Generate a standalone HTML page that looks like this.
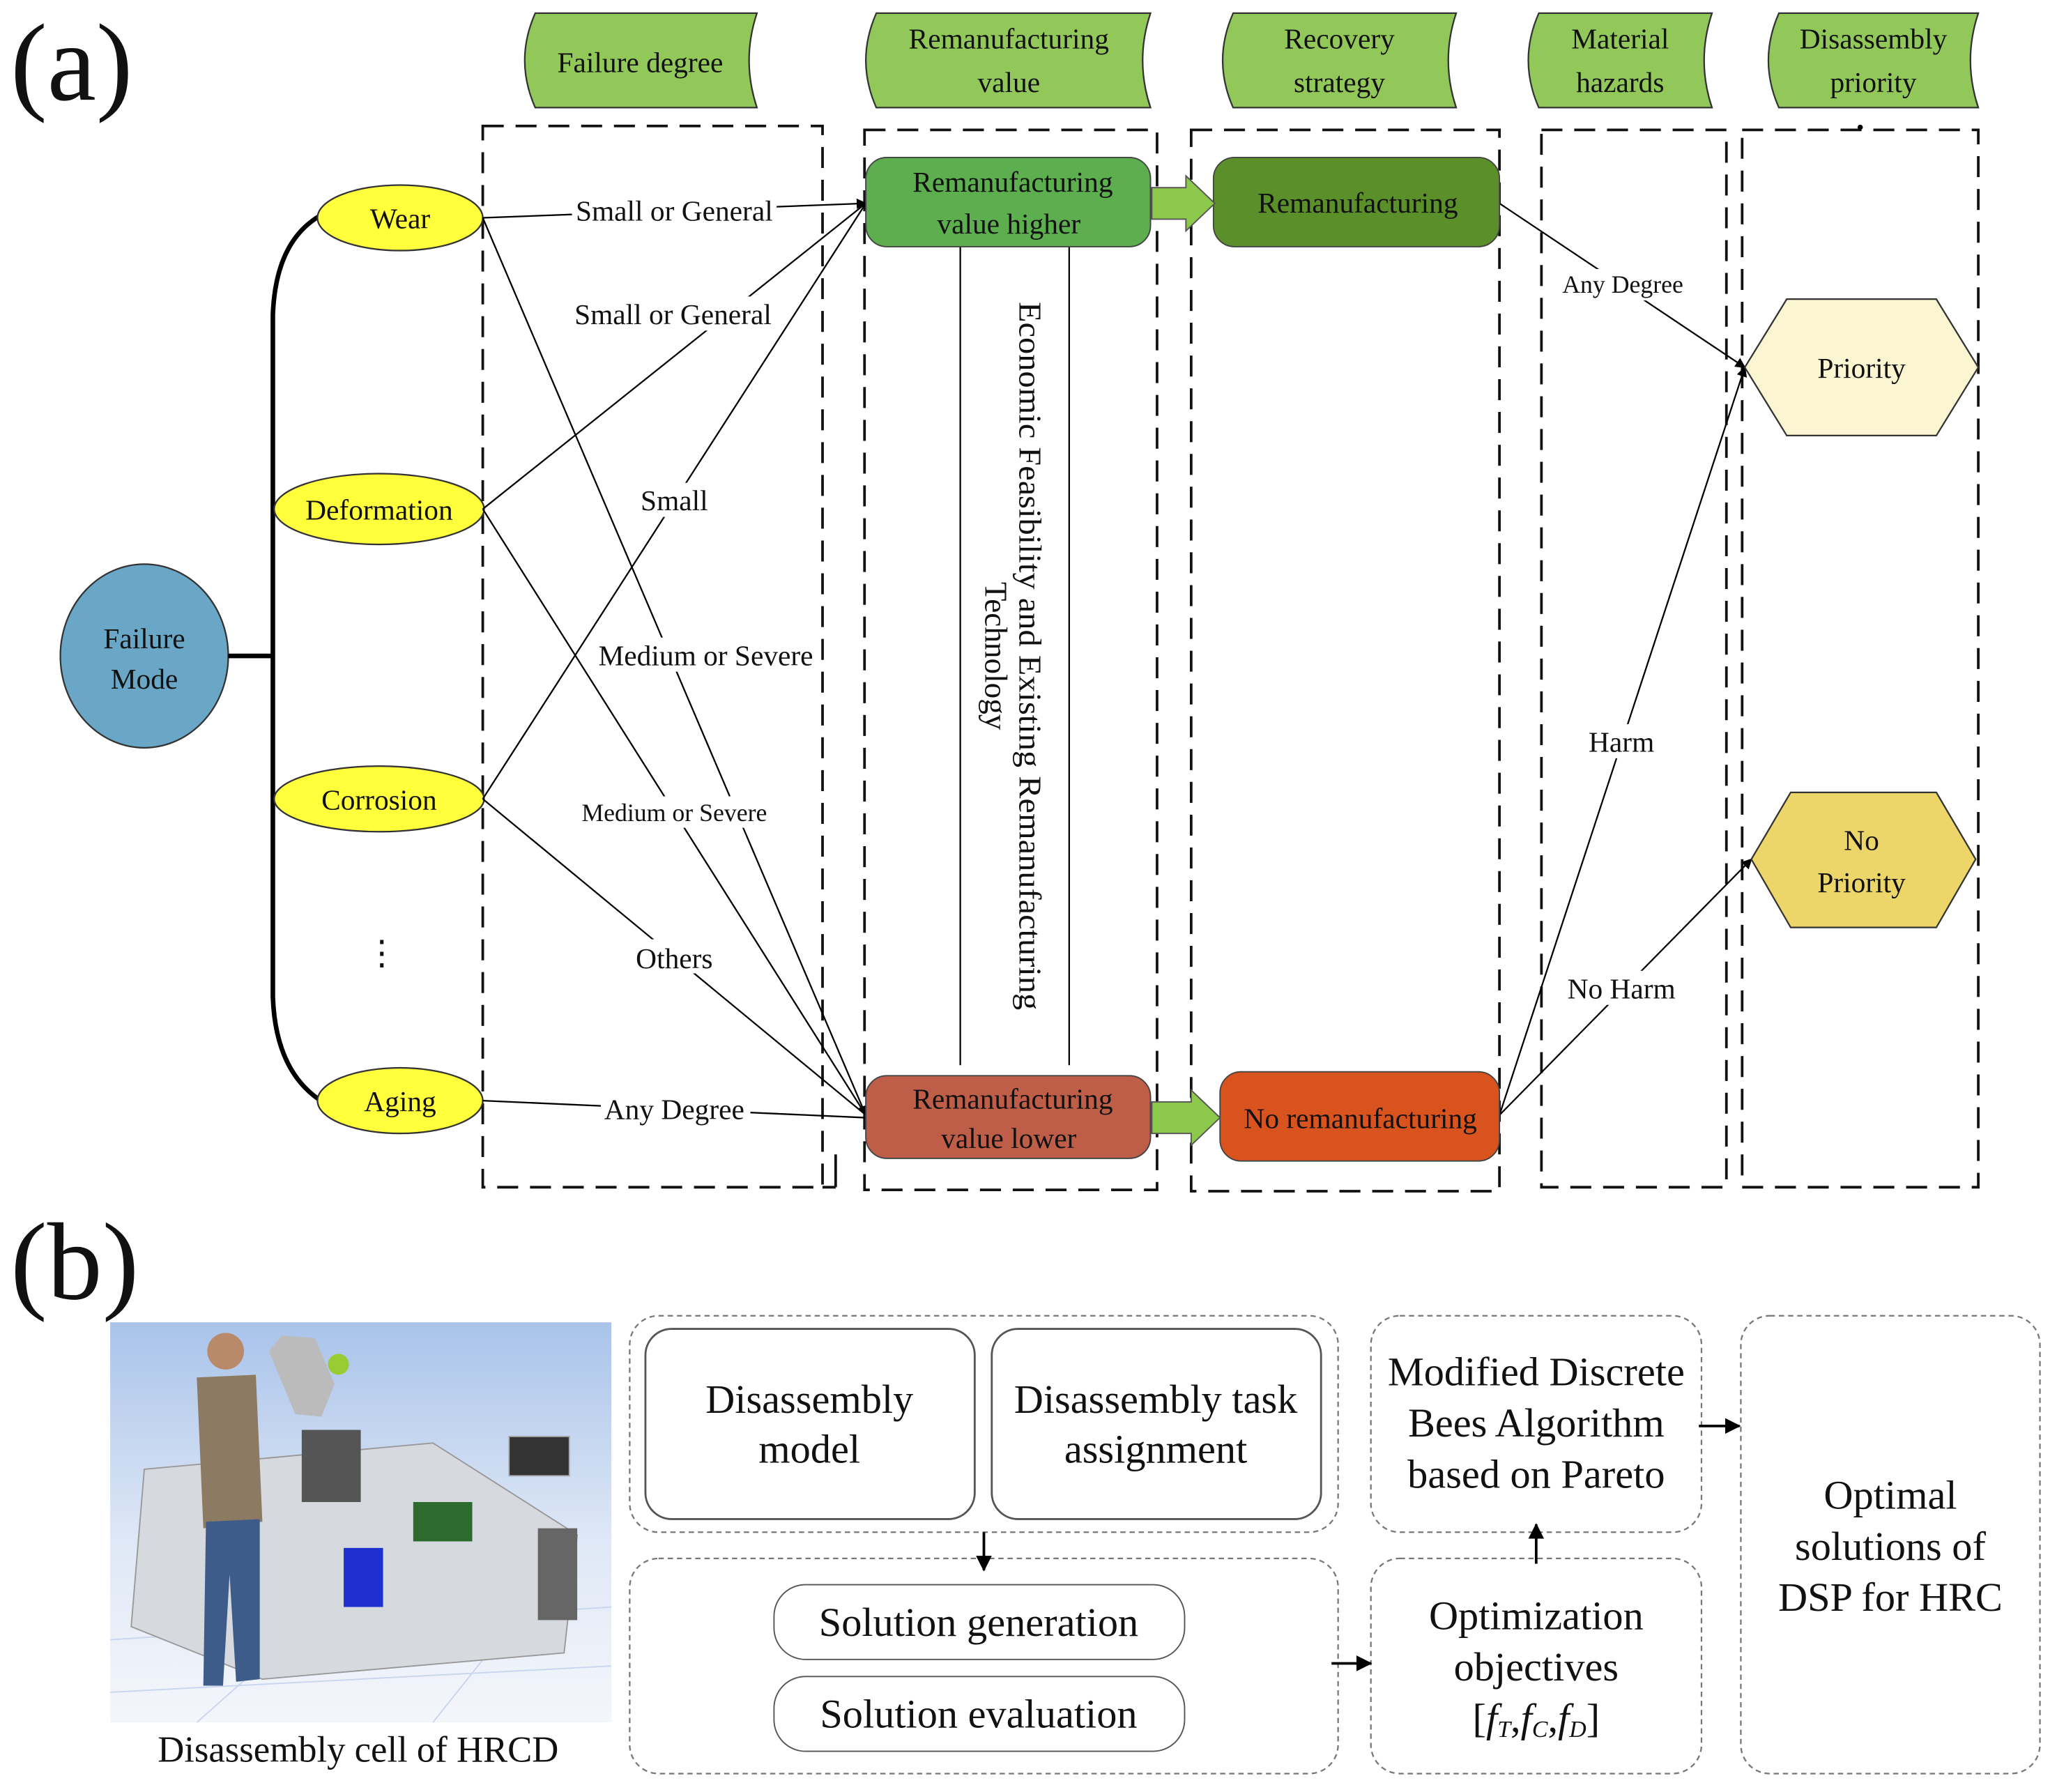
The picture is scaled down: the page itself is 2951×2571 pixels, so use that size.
<!DOCTYPE html>
<html><head><meta charset="utf-8"><style>
html,body{margin:0;padding:0;background:#fff}
svg{display:block}
text{font-family:"Liberation Serif",serif;fill:#111}
</style></head><body>
<svg width="2951" height="2571" viewBox="0 0 1568 1366" xmlns="http://www.w3.org/2000/svg" font-family="Liberation Serif, serif">
<defs>
<marker id="ah" markerWidth="8" markerHeight="8" refX="7" refY="4" orient="auto" markerUnits="userSpaceOnUse"><path d="M0,0 L8,4 L0,8 z" fill="#000"/></marker>
<marker id="ab" markerWidth="12" markerHeight="12" refX="11" refY="6" orient="auto" markerUnits="userSpaceOnUse"><path d="M0,0 L12,6 L0,12 z" fill="#000"/></marker>
</defs>
<text x="8" y="76" font-size="84">(a)</text>
<text x="8" y="990" font-size="84">(b)</text>

<g fill="#92c85a" stroke="#333" stroke-width="1.2">
<path d="M408,10 H577 Q565,46 577,82 H408 Q392,46 408,10 z"/>
<path d="M668,10 H877 Q865,46 877,82 H668 Q652,46 668,10 z"/>
<path d="M940,10 H1110 Q1098,46 1110,82 H940 Q924,46 940,10 z"/>
<path d="M1173,10 H1305 Q1293,46 1305,82 H1173 Q1157,46 1173,10 z"/>
<path d="M1356,10 H1508 Q1496,46 1508,82 H1356 Q1340,46 1356,10 z"/>
</g>
<g font-size="22" text-anchor="middle">
<text x="488" y="55">Failure degree</text>
<text x="769" y="37">Remanufacturing</text><text x="769" y="70">value</text>
<text x="1021" y="37">Recovery</text><text x="1021" y="70">strategy</text>
<text x="1235" y="37">Material</text><text x="1235" y="70">hazards</text>
<text x="1428" y="37">Disassembly</text><text x="1428" y="70">priority</text>
</g>

<g fill="none" stroke="#111" stroke-width="2" stroke-dasharray="16,9">
<rect x="368" y="96" width="259" height="809"/>
<rect x="659" y="99" width="223" height="808"/>
<rect x="908" y="99" width="235" height="809"/>
<rect x="1175" y="99" width="141" height="806"/>
<rect x="1328" y="99" width="180" height="806"/>
</g>
<line x1="637" y1="880" x2="637" y2="905" stroke="#111" stroke-width="2"/>
<line x1="627" y1="905" x2="637" y2="905" stroke="#111" stroke-width="2"/>

<ellipse cx="110" cy="500" rx="64" ry="70" fill="#6aa6c6" stroke="#333" stroke-width="1.2"/>
<text x="110" y="494" font-size="22" text-anchor="middle">Failure</text>
<text x="110" y="525" font-size="22" text-anchor="middle">Mode</text>
<path d="M174,500 H208 M243,165 Q210,185 208,240 V760 Q210,815 243,838" fill="none" stroke="#000" stroke-width="3.5"/>
<g fill="#ffff3c" stroke="#333" stroke-width="1.2">
<ellipse cx="305" cy="166" rx="63" ry="25"/>
<ellipse cx="289" cy="388" rx="80" ry="27"/>
<ellipse cx="289" cy="609" rx="80" ry="25"/>
<ellipse cx="305" cy="839" rx="63" ry="25"/>
</g>
<g font-size="22" text-anchor="middle">
<text x="305" y="174">Wear</text>
<text x="289" y="396">Deformation</text>
<text x="289" y="617">Corrosion</text>
<text x="305" y="847">Aging</text>
<text x="291" y="735" font-size="26">⋮</text>
</g>

<g stroke="#000" stroke-width="1.2" fill="none">
<line x1="368" y1="166" x2="660" y2="155" marker-end="url(#ah)"/>
<line x1="368" y1="388" x2="660" y2="155"/>
<line x1="368" y1="609" x2="660" y2="155"/>
<line x1="368" y1="166" x2="660" y2="850" marker-end="url(#ah)"/>
<line x1="368" y1="388" x2="660" y2="850"/>
<line x1="368" y1="609" x2="660" y2="850"/>
<line x1="368" y1="839" x2="660" y2="852"/>
<line x1="1143" y1="155" x2="1330" y2="280" marker-end="url(#ah)"/>
<line x1="1143" y1="850" x2="1330" y2="280" marker-end="url(#ah)"/>
<line x1="1143" y1="850" x2="1335" y2="655" marker-end="url(#ah)"/>
<line x1="732" y1="188" x2="732" y2="812"/>
<line x1="815" y1="188" x2="815" y2="812"/>
</g>
<g font-size="22" text-anchor="middle">
<rect x="436" y="146" width="156" height="26" fill="#fff"/><text x="514" y="168">Small or General</text>
<rect x="432" y="226" width="162" height="26" fill="#fff"/><text x="513" y="247">Small or General</text>
<rect x="484" y="368" width="62" height="26" fill="#fff"/><text x="514" y="389">Small</text>
<rect x="450" y="486" width="176" height="26" fill="#fff"/><text x="538" y="507">Medium or Severe</text>
<rect x="438" y="607" width="154" height="24" fill="#fff"/><text x="514" y="626" font-size="19">Medium or Severe</text>
<rect x="482" y="716" width="66" height="26" fill="#fff"/><text x="514" y="738">Others</text>
<rect x="458" y="832" width="114" height="26" fill="#fff"/><text x="514" y="853">Any Degree</text>
<rect x="1186" y="205" width="102" height="24" fill="#fff"/><text x="1237" y="223" font-size="19">Any Degree</text>
<rect x="1206" y="552" width="60" height="26" fill="#fff"/><text x="1236" y="573">Harm</text>
<rect x="1190" y="740" width="94" height="26" fill="#fff"/><text x="1236" y="761">No Harm</text>
</g>

<rect x="660" y="120" width="217" height="68" rx="16" fill="#5cae4f" stroke="#444"/>
<rect x="925" y="120" width="218" height="68" rx="16" fill="#5a8f2a" stroke="#444"/>
<rect x="660" y="820" width="217" height="63" rx="16" fill="#bf5e48" stroke="#444"/>
<rect x="930" y="817" width="213" height="68" rx="16" fill="#d9531f" stroke="#444"/>
<g font-size="22" text-anchor="middle">
<text x="772" y="146">Remanufacturing</text><text x="769" y="178">value higher</text>
<text x="1035" y="162">Remanufacturing</text>
<text x="772" y="845">Remanufacturing</text><text x="769" y="875">value lower</text>
<text x="1037" y="860">No remanufacturing</text>
</g>
<g fill="#8cc84b" stroke="#555" stroke-width="1">
<path d="M878,143 H904 V134 L926,155 L904,176 V167 H878 z"/>
<path d="M878,840 H908 V831 L930,852 L908,873 V864 H878 z"/>
</g>
<g font-size="24">
<text transform="translate(777,230) rotate(90)" textLength="540" lengthAdjust="spacingAndGlyphs">Economic Feasibility and Existing Remanufacturing</text>
<text transform="translate(751,500) rotate(90)" text-anchor="middle">Technology</text>
</g>

<polygon points="1330,280 1362,228 1476,228 1508,280 1476,332 1362,332" fill="#fbf5d2" stroke="#333" stroke-width="1.2"/>
<polygon points="1335,655 1365,604 1476,604 1506,655 1476,707 1365,707" fill="#ecd66a" stroke="#333" stroke-width="1.2"/>
<g font-size="22" text-anchor="middle">
<text x="1419" y="288">Priority</text>
<text x="1419" y="648">No</text><text x="1419" y="680">Priority</text>
</g>
<circle cx="1418" cy="97" r="2" fill="#000"/>

<defs><linearGradient id="sky" x1="0" y1="0" x2="0" y2="1"><stop offset="0" stop-color="#a9c3ea"/><stop offset="0.55" stop-color="#dfe8f6"/><stop offset="1" stop-color="#f4f6fb"/></linearGradient></defs>
<rect x="84" y="1008" width="382" height="305" fill="url(#sky)"/>
<g stroke="#c9d4ee" stroke-width="1">
<line x1="84" y1="1250" x2="466" y2="1225"/><line x1="84" y1="1290" x2="466" y2="1270"/>
<line x1="150" y1="1313" x2="300" y2="1180"/><line x1="330" y1="1313" x2="420" y2="1200"/>
</g>
<path d="M110,1120 L330,1100 L440,1170 L430,1260 L200,1280 L100,1240 z" fill="#d6d9de" stroke="#999"/>
<rect x="230" y="1090" width="45" height="55" fill="#555"/>
<rect x="388" y="1095" width="46" height="30" fill="#333" stroke="#aaa"/>
<rect x="315" y="1145" width="45" height="30" fill="#2d6a2d"/>
<rect x="262" y="1180" width="30" height="45" fill="#2030d0"/>
<rect x="410" y="1165" width="30" height="70" fill="#666"/>
<path d="M205,1030 L215,1018 L240,1020 L255,1055 L245,1080 L225,1078 z" fill="#bbb"/>
<circle cx="258" cy="1040" r="8" fill="#9c3"/>
<circle cx="172" cy="1030" r="14" fill="#b88a6a"/>
<path d="M150,1050 L195,1048 L200,1160 L155,1165 z" fill="#8d7a62"/>
<path d="M157,1160 L198,1158 L198,1280 L180,1282 L175,1200 L170,1285 L155,1285 z" fill="#3e5c8a"/>
<text x="273" y="1343" font-size="28" text-anchor="middle">Disassembly cell of HRCD</text>

<g fill="none" stroke="#777" stroke-width="1.2" stroke-dasharray="4,3">
<rect x="480" y="1003" width="540" height="165" rx="22"/>
<rect x="480" y="1188" width="540" height="164" rx="22"/>
<rect x="1045" y="1003" width="252" height="165" rx="22"/>
<rect x="1045" y="1188" width="252" height="164" rx="22"/>
<rect x="1327" y="1003" width="228" height="349" rx="22"/>
</g>
<g fill="#fff" stroke="#555" stroke-width="1.5">
<rect x="492" y="1013" width="251" height="145" rx="20"/>
<rect x="756" y="1013" width="251" height="145" rx="20"/>
<rect x="590" y="1208" width="313" height="57" rx="24" stroke-width="1"/>
<rect x="590" y="1278" width="313" height="57" rx="24" stroke-width="1"/>
</g>
<g font-size="31" text-anchor="middle">
<text x="617" y="1077">Disassembly</text><text x="617" y="1115">model</text>
<text x="881" y="1077">Disassembly task</text><text x="881" y="1115">assignment</text>
<text x="746" y="1247">Solution generation</text>
<text x="746" y="1317">Solution evaluation</text>
<text x="1171" y="1056">Modified Discrete</text><text x="1171" y="1095">Bees Algorithm</text><text x="1171" y="1134">based on Pareto</text>
<text x="1171" y="1242">Optimization</text><text x="1171" y="1281">objectives</text>
<text x="1171" y="1320">[<tspan font-style="italic">f</tspan><tspan font-size="18" font-style="italic" dy="4">T</tspan><tspan dy="-4">,</tspan><tspan font-style="italic">f</tspan><tspan font-size="18" font-style="italic" dy="4">C</tspan><tspan dy="-4">,</tspan><tspan font-style="italic">f</tspan><tspan font-size="18" font-style="italic" dy="4">D</tspan><tspan dy="-4">]</tspan></text>
<text x="1441" y="1150">Optimal</text><text x="1441" y="1189">solutions of</text><text x="1441" y="1228">DSP for HRC</text>
</g>
<g stroke="#000" stroke-width="2" fill="none">
<line x1="750" y1="1168" x2="750" y2="1197" marker-end="url(#ab)"/>
<line x1="1015" y1="1268" x2="1045" y2="1268" marker-end="url(#ab)"/>
<line x1="1171" y1="1192" x2="1171" y2="1162" marker-end="url(#ab)"/>
<line x1="1295" y1="1087" x2="1326" y2="1087" marker-end="url(#ab)"/>
</g>
</svg>
</body></html>
